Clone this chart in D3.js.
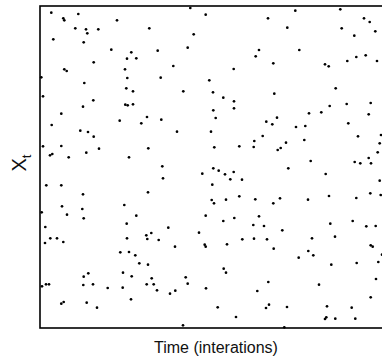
<!DOCTYPE html>
<html><head><meta charset="utf-8">
<script src="https://cdn.jsdelivr.net/npm/d3@7"></script>
<style>body{margin:0;background:#fff;}svg{display:block;}</style>
</head><body>
<script>
// iteration (time) and X_t values
const iteration = [
11.3,38.3,23.3,24.3,77,35.3,46,58.3,109.3,47.3,13.3,43.7,71.3,91.3,87,96.3,53.7,24.3,26.7,85,1.3,87.3,44.3,86.3,93,3,53.3,85.3,87.7,93,43,21.3,
150.3,165.7,153.7,117.7,147.7,219,215.7,133.3,193.7,120.7,169.3,143.3,173,183.3,194,194,173.3,
228,255.3,300.3,324,329.7,247.3,301.7,335.3,314.3,259.3,233.3,285,288.7,307.3,316.3,325.7,337,295.7,234.3,330.7,306.7,289.7,269,281.3,328.7,
107,79.7,11.7,101.3,40.3,48,53.7,3,21.3,59,108.3,46.3,10,12.3,28.7,89,6.3,21.3,43,108,22,42.3,84.3,1.7,27,96.3,43.7,86.7,
175.7,121.3,137,171,222.7,214.3,174.3,199.3,213.7,122.3,123,173.3,178.7,162.3,185,193.7,190.3,202,172.3,171.7,174,186,199.3,215.3,165.7,183.3,194.3,219,
237,226.3,232.3,256,265.3,308.3,318,341,246,264.3,240.7,237.7,339.7,337.7,328.7,314.7,320.3,331,270.7,248.3,285.7,339.7,330.3,340.7,240,233.3,268,289,316.3,290.3,312.7,
5.3,5,10.3,17,23.3,87,106.3,107.3,111.3,80.3,89,95.3,99.3,108,43.7,48.3,83,91.7,111.7,2,6,9,43.3,53,67.7,82.7,106.7,91,21.3,23.7,46.7,57,
128.3,213.3,224,159,118.7,135,164.7,165.7,187,202.3,214,113.7,117,130,135.3,145.7,147.7,166,183.7,186,217.3,177.7,196,143,
242.3,326.3,335.7,227,272,295,233.7,268.3,273.3,258.7,330.7,332.7,342,291.3,316.7,338.3,228.3,336,279,330.7,226,229,247,287,311.7,286.3,285,295.3,315.3,244.3
];
const xt = [
315.3,314,309.7,307.7,307.7,299.7,298.7,298.7,299.7,294.7,288.7,285.7,278.3,275.7,269.3,269.7,265.7,258.7,257,258.7,250.7,250,245,239.7,236.7,231.7,227.7,223.3,222.7,223.7,221.3,214.3,
320,313.3,293.7,277.3,280.3,278,271.7,262,259,250.3,247.7,236.7,235.7,230.3,226.7,219.7,217.7,
309.7,317.3,318.7,309.7,306,300.3,299.7,296.7,292.3,278,264.7,263.7,261.7,267,271,272.7,267,239.7,234.3,225,224,222,214.7,215.7,213.7,
211,207.3,203,204.7,197.3,196,191.3,181.7,182,179.3,179.7,175.3,172.7,174,170.7,170.7,142.7,142.7,133.7,135.7,121.7,119,123,115.7,113.3,112.3,109.7,104.3,
210,208.3,196.3,196.3,192,187,180.7,181.7,181,161.7,149.7,159.7,157.3,154.3,153.7,156,148.7,148.3,143.3,128,124.7,128.3,131.7,128.7,112.3,107,110,111.7,
210.3,206.3,203.7,201,202,204.7,191.7,193,185.3,188,180,178,184.7,175.7,170,166,164.7,164.7,167,159.7,154,147.3,134.7,133,129.7,124.7,128.3,132,130,104.3,107,
101,85,89.7,89.7,86,89.7,92.7,89,95,75.7,76,72.7,64.7,63.3,51.3,54.7,55.3,51.7,49.7,41.7,43.7,43.7,43,43.7,40,40.3,43.7,28.7,24.3,26,25.3,20.3,
100.3,103,102,95.3,88,81.3,83.3,81.3,83.7,88.7,89.3,43.7,37.7,34.3,37.3,50.7,44.3,39.7,59.3,55.3,37,20.7,11,2.7,
97.7,101.7,102,88.7,89.7,91.3,79.3,77,72.7,70.3,82.7,81.3,73.3,63.3,65,66,46,49,43.3,30.7,20,23.3,21,21.7,20.3,10.7,9,9.3,9.3,0.7
];
const xLabel = "Time (interations)";
const yLabel = "X";
const ySub = "t";

const W = 382, H = 359;
const svg = d3.select("body").append("svg").attr("width", W).attr("height", H);
const x = d3.scaleLinear().domain([0, 352]).range([40, 392]);
const y = d3.scaleLinear().domain([0, 322]).range([328, 6]);

svg.append("g").selectAll("circle")
  .data(d3.range(iteration.length))
  .join("circle")
  .attr("cx", i => x(iteration[i]))
  .attr("cy", i => y(xt[i]))
  .attr("r", 1.35)
  .attr("fill", "#000");

svg.append("rect")
  .attr("x", x(0)).attr("y", y(322))
  .attr("width", x(352) - x(0)).attr("height", y(0) - y(322))
  .attr("fill", "none").attr("stroke", "#000").attr("stroke-width", 1.6);

svg.append("text")
  .attr("x", 216).attr("y", 353)
  .attr("text-anchor", "middle")
  .attr("font-family", "Liberation Sans, Arial, sans-serif")
  .attr("font-size", 16)
  .attr("fill", "#111")
  .text(xLabel);

const yl = svg.append("text")
  .attr("transform", "translate(26,163) rotate(-90)")
  .attr("text-anchor", "middle")
  .attr("font-family", "Liberation Sans, Arial, sans-serif")
  .attr("font-size", 20)
  .attr("fill", "#111");
yl.append("tspan").text(yLabel);
yl.append("tspan").attr("font-size", 13).attr("dy", 4.5).text(ySub);
</script>
</body></html>
